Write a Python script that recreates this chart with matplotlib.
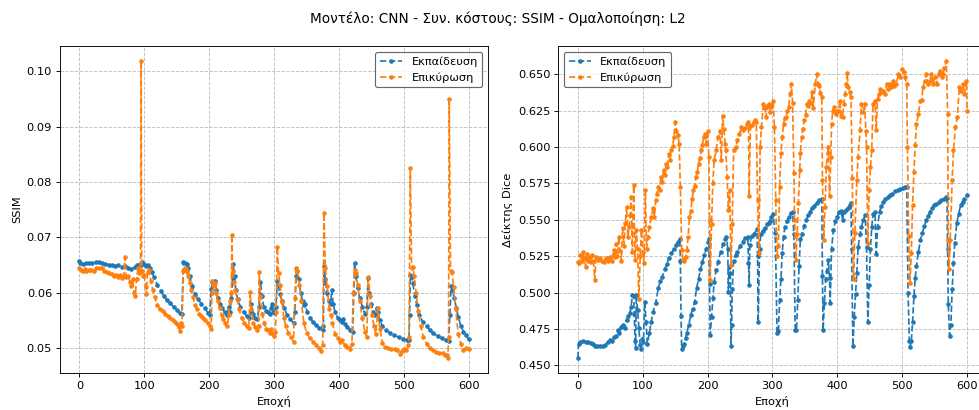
import matplotlib
matplotlib.use("Agg")
import matplotlib.pyplot as plt

# SSIM per epoch (train / validation)
ssim_train_ep = [0, 1, 5, 10, 15, 20, 25, 30, 35, 40, 45, 50, 55, 60, 65, 70, 75, 80, 85, 88,
                 90, 93, 95, 97, 100, 103, 106, 109, 112, 115, 120, 125, 130, 135, 140, 145, 150, 155, 158, 160,
                 162, 165, 167, 170, 174, 178, 183, 188, 193, 198, 201, 203, 205, 207, 209, 211, 213, 216, 220, 224,
                 228, 230, 232, 234, 236, 237, 239, 241, 244, 248, 253, 258, 262, 264, 265, 267, 270, 274, 277, 279,
                 281, 284, 287, 290, 293, 295, 297, 299, 301, 303, 305, 307, 309, 312, 316, 320, 325, 330, 332, 334,
                 336, 338, 341, 344, 346, 348, 351, 355, 360, 365, 370, 375, 376, 377, 379, 381, 384, 387, 389, 391,
                 394, 398, 402, 405, 407, 409, 413, 417, 421, 423, 424, 426, 429, 432, 436, 440, 443, 445, 447, 450,
                 453, 456, 458, 460, 463, 467, 472, 478, 485, 492, 499, 505, 508, 509, 510, 512, 514, 517, 520, 524,
                 529, 535, 540, 545, 552, 559, 565, 569, 571, 573, 575, 578, 581, 584, 588, 592, 596, 600]
ssim_train = [0.0658, 0.0653, 0.0652, 0.0654, 0.0653, 0.0654, 0.0655, 0.0655, 0.0654, 0.0652,
              0.0651, 0.0650, 0.0649, 0.0650, 0.0647, 0.0648, 0.0645, 0.0643, 0.0646, 0.0651,
              0.0648, 0.0652, 0.0650, 0.0655, 0.0652, 0.0648, 0.0650, 0.0645, 0.0637, 0.0628,
              0.0614, 0.0603, 0.0594, 0.0587, 0.0581, 0.0575, 0.0569, 0.0563, 0.0562, 0.0655,
              0.0654, 0.0652, 0.0645, 0.0630, 0.0612, 0.0598, 0.0588, 0.0580, 0.0572, 0.0564,
              0.0560, 0.0606, 0.0620, 0.0615, 0.0622, 0.0605, 0.0590, 0.0580, 0.0572, 0.0565,
              0.0560, 0.0575, 0.0565, 0.0590, 0.0625, 0.0652, 0.0630, 0.0605, 0.0588, 0.0575,
              0.0565, 0.0558, 0.0555, 0.0568, 0.0580, 0.0562, 0.0555, 0.0552, 0.0575, 0.0620,
              0.0595, 0.0575, 0.0568, 0.0565, 0.0562, 0.0572, 0.0580, 0.0565, 0.0563, 0.0575,
              0.0622, 0.0612, 0.0598, 0.0585, 0.0572, 0.0560, 0.0552, 0.0546, 0.0565, 0.0630,
              0.0640, 0.0625, 0.0600, 0.0585, 0.0578, 0.0580, 0.0565, 0.0555, 0.0547, 0.0541,
              0.0537, 0.0533, 0.0540, 0.0649, 0.0625, 0.0600, 0.0585, 0.0580, 0.0605, 0.0580,
              0.0565, 0.0555, 0.0550, 0.0547, 0.0552, 0.0543, 0.0538, 0.0533, 0.0530, 0.0600,
              0.0653, 0.0630, 0.0608, 0.0590, 0.0575, 0.0562, 0.0575, 0.0626, 0.0600, 0.0580,
              0.0566, 0.0560, 0.0572, 0.0565, 0.0550, 0.0540, 0.0533, 0.0528, 0.0524, 0.0520,
              0.0517, 0.0515, 0.0514, 0.0560, 0.0632, 0.0628, 0.0618, 0.0595, 0.0578, 0.0560,
              0.0548, 0.0540, 0.0533, 0.0527, 0.0522, 0.0518, 0.0515, 0.0513, 0.0560, 0.0612,
              0.0605, 0.0590, 0.0572, 0.0556, 0.0540, 0.0530, 0.0523, 0.0516]

ssim_val_ep = [0, 2, 5, 8, 10, 14, 18, 22, 26, 30, 34, 38, 42, 46, 50, 53, 56, 59, 62, 65,
               68, 70, 72, 75, 78, 80, 82, 84, 86, 88, 90, 92, 94, 95, 96, 98, 100, 102, 103, 105,
               107, 110, 113, 116, 120, 124, 128, 132, 136, 140, 144, 148, 151, 153, 155, 157, 158, 160, 162, 164,
               166, 168, 170, 172, 175, 178, 181, 184, 187, 190, 194, 198, 201, 203, 204, 205, 207, 209, 211, 213,
               216, 219, 222, 225, 228, 230, 232, 234, 235, 236, 238, 240, 243, 246, 250, 254, 258, 261, 263, 265,
               268, 271, 274, 276, 277, 279, 282, 285, 288, 291, 294, 296, 298, 300, 302, 303, 305, 307, 309, 312,
               315, 318, 322, 326, 330, 332, 334, 336, 339, 342, 346, 350, 355, 360, 365, 369, 372, 375, 377, 379,
               382, 385, 388, 390, 394, 398, 402, 405, 409, 413, 417, 420, 422, 424, 426, 429, 432, 436, 440, 443,
               445, 448, 451, 454, 457, 460, 463, 467, 471, 476, 481, 486, 490, 494, 497, 500, 504, 507, 508, 510,
               512, 514, 516, 519, 522, 526, 530, 535, 540, 545, 550, 555, 560, 563, 566, 568, 569, 570, 572, 574,
               577, 580, 584, 588, 592, 596, 600]
ssim_val = [0.0645, 0.0642, 0.0640, 0.0643, 0.0639, 0.0641, 0.0642, 0.0640, 0.0644, 0.0645,
            0.0644, 0.0640, 0.0638, 0.0636, 0.0634, 0.0630, 0.0633, 0.0629, 0.0632, 0.0626,
            0.0631, 0.0664, 0.0628, 0.0630, 0.0620, 0.0612, 0.0625, 0.0600, 0.0595, 0.0625,
            0.0645, 0.0635, 0.0640, 0.1019, 0.0640, 0.0630, 0.0632, 0.0610, 0.0597, 0.0638,
            0.0642, 0.0622, 0.0605, 0.0592, 0.0578, 0.0570, 0.0567, 0.0562, 0.0558, 0.0555,
            0.0550, 0.0547, 0.0543, 0.0538, 0.0531, 0.0545, 0.0540, 0.0640, 0.0645, 0.0643,
            0.0638, 0.0630, 0.0618, 0.0605, 0.0592, 0.0578, 0.0570, 0.0562, 0.0558, 0.0555,
            0.0550, 0.0545, 0.0540, 0.0535, 0.0600, 0.0622, 0.0612, 0.0618, 0.0600, 0.0585,
            0.0572, 0.0560, 0.0552, 0.0545, 0.0540, 0.0560, 0.0585, 0.0600, 0.0705, 0.0640,
            0.0620, 0.0605, 0.0588, 0.0570, 0.0555, 0.0545, 0.0540, 0.0536, 0.0601, 0.0570,
            0.0545, 0.0538, 0.0532, 0.0540, 0.0638, 0.0595, 0.0562, 0.0545, 0.0535, 0.0532,
            0.0528, 0.0535, 0.0525, 0.0522, 0.0530, 0.0565, 0.0683, 0.0635, 0.0614, 0.0584,
            0.0555, 0.0540, 0.0528, 0.0520, 0.0512, 0.0590, 0.0644, 0.0640, 0.0615, 0.0585,
            0.0545, 0.0528, 0.0518, 0.0512, 0.0506, 0.0500, 0.0495, 0.0505, 0.0744, 0.0645,
            0.0612, 0.0570, 0.0560, 0.0545, 0.0525, 0.0518, 0.0512, 0.0515, 0.0505, 0.0502,
            0.0498, 0.0508, 0.0600, 0.0641, 0.0635, 0.0614, 0.0585, 0.0555, 0.0530, 0.0520,
            0.0629, 0.0595, 0.0560, 0.0540, 0.0525, 0.0572, 0.0535, 0.0510, 0.0503, 0.0500,
            0.0498, 0.0499, 0.0497, 0.0490, 0.0495, 0.0499, 0.0496, 0.0505, 0.0520, 0.0825,
            0.0644, 0.0647, 0.0630, 0.0600, 0.0568, 0.0540, 0.0520, 0.0508, 0.0500, 0.0497,
            0.0493, 0.0492, 0.0491, 0.0488, 0.0487, 0.0482, 0.0520, 0.0950, 0.0640, 0.0637,
            0.0610, 0.0570, 0.0525, 0.0508, 0.0497, 0.0500, 0.0499]

# Dice coefficient per epoch (train / validation)
dice_train_ep = [0, 1, 4, 8, 12, 16, 20, 24, 27, 30, 34, 38, 42, 46, 50, 53, 56, 59, 62, 64,
                 67, 70, 72, 75, 78, 80, 82, 84, 86, 87, 88, 89, 90, 92, 94, 96, 97, 99, 101, 103,
                 105, 107, 110, 113, 116, 120, 124, 127, 130, 134, 137, 140, 144, 148, 152, 155, 157, 158, 159, 160,
                 162, 164, 166, 168, 171, 174, 177, 180, 183, 186, 189, 192, 195, 198, 201, 202, 203, 204, 206, 208,
                 210, 213, 216, 220, 224, 227, 229, 231, 232, 233, 235, 236, 237, 238, 240, 243, 246, 250, 254, 258,
                 262, 263, 264, 265, 268, 272, 276, 277, 278, 280, 282, 285, 288, 291, 294, 296, 298, 301, 304, 305,
                 307, 309, 311, 313, 315, 317, 319, 322, 325, 328, 331, 333, 335, 337, 339, 341, 343, 346, 349, 352,
                 355, 358, 361, 364, 368, 372, 376, 377, 378, 380, 382, 384, 386, 388, 389, 391, 394, 397, 400, 403,
                 406, 408, 410, 413, 416, 419, 421, 422, 424, 426, 428, 430, 432, 435, 437, 440, 443, 445, 447, 449,
                 451, 453, 455, 458, 460, 462, 465, 468, 471, 474, 478, 481, 485, 489, 493, 497, 501, 505, 507, 509,
                 511, 512, 514, 516, 518, 520, 522, 525, 528, 531, 534, 537, 540, 543, 546, 549, 552, 556, 560, 564,
                 567, 569, 570, 571, 573, 575, 577, 579, 581, 584, 587, 590, 593, 596, 600]
dice_train = [0.455, 0.465, 0.466, 0.4665, 0.466, 0.4658, 0.4655, 0.465, 0.4632, 0.463,
              0.4635, 0.4633, 0.464, 0.466, 0.4676, 0.467, 0.4695, 0.470, 0.4745, 0.472,
              0.4767, 0.478, 0.4755, 0.4813, 0.484, 0.4858, 0.490, 0.4985, 0.4975, 0.485,
              0.4665, 0.462, 0.4985, 0.488, 0.4755, 0.464, 0.461, 0.468, 0.466, 0.4935,
              0.480, 0.465, 0.472, 0.480, 0.4868, 0.493, 0.503, 0.508, 0.511, 0.516,
              0.5195, 0.5235, 0.527, 0.530, 0.533, 0.535, 0.5365, 0.522, 0.484, 0.4615,
              0.463, 0.465, 0.4685, 0.4725, 0.478, 0.4845, 0.489, 0.4935, 0.503, 0.5095,
              0.516, 0.521, 0.526, 0.530, 0.5345, 0.537, 0.506, 0.471, 0.483, 0.496,
              0.507, 0.5155, 0.521, 0.528, 0.5335, 0.537, 0.5385, 0.530, 0.5005, 0.5175,
              0.5135, 0.463, 0.4775, 0.5025, 0.5215, 0.5255, 0.528, 0.532, 0.535, 0.5375,
              0.538, 0.520, 0.505, 0.533, 0.539, 0.5405, 0.5435, 0.525, 0.4795, 0.530,
              0.5405, 0.5425, 0.5445, 0.547, 0.548, 0.549, 0.552, 0.554, 0.541, 0.525,
              0.472, 0.4735, 0.495, 0.509, 0.5275, 0.538, 0.545, 0.549, 0.552, 0.5545,
              0.5555, 0.540, 0.4741, 0.4745, 0.495, 0.5185, 0.5365, 0.540, 0.546, 0.550,
              0.553, 0.5555, 0.558, 0.5595, 0.5615, 0.5635, 0.5645, 0.5115, 0.4741, 0.493,
              0.509, 0.515, 0.5225, 0.510, 0.4929, 0.530, 0.5432, 0.549, 0.552, 0.5555,
              0.556, 0.550, 0.5555, 0.5565, 0.558, 0.560, 0.5614, 0.530, 0.4632, 0.4832,
              0.499, 0.5133, 0.5315, 0.540, 0.545, 0.550, 0.553, 0.531, 0.4795, 0.505,
              0.530, 0.545, 0.554, 0.555, 0.5265, 0.545, 0.5555, 0.5595, 0.562, 0.564,
              0.5655, 0.567, 0.568, 0.5694, 0.5703, 0.5712, 0.572, 0.5728, 0.5725, 0.500,
              0.467, 0.4624, 0.4665, 0.480, 0.4975, 0.510, 0.5183, 0.528, 0.536, 0.541,
              0.5455, 0.5498, 0.5525, 0.5555, 0.558, 0.560, 0.561, 0.562, 0.5633, 0.5645,
              0.5653, 0.565, 0.530, 0.4922, 0.4705, 0.478, 0.5025, 0.520, 0.534, 0.5476,
              0.554, 0.560, 0.5625, 0.5645, 0.567]

dice_val_ep = [0, 2, 4, 6, 8, 10, 12, 14, 16, 18, 20, 22, 24, 26, 28, 31, 34, 37, 40, 43,
               46, 49, 52, 55, 57, 59, 61, 63, 65, 67, 69, 71, 73, 75, 77, 79, 81, 82, 84, 86,
               88, 90, 92, 94, 96, 98, 100, 102, 104, 106, 108, 110, 113, 116, 118, 120, 122, 124, 126, 128,
               130, 132, 134, 136, 138, 140, 142, 144, 146, 148, 150, 152, 154, 156, 158, 160, 162, 164, 166, 168,
               170, 172, 174, 176, 178, 180, 182, 184, 186, 188, 190, 192, 194, 196, 198, 200, 202, 203, 204, 206,
               208, 210, 213, 216, 219, 221, 223, 225, 227, 228, 230, 232, 234, 236, 238, 240, 243, 246, 249, 252,
               255, 258, 260, 263, 264, 266, 268, 271, 273, 275, 277, 279, 281, 283, 286, 288, 290, 292, 294, 296,
               298, 301, 303, 305, 307, 309, 311, 313, 315, 317, 319, 321, 323, 325, 327, 329, 331, 333, 334, 336,
               338, 340, 342, 343, 345, 347, 349, 351, 353, 355, 357, 359, 361, 363, 366, 368, 370, 372, 374, 376,
               377, 379, 381, 383, 385, 386, 388, 390, 391, 393, 395, 398, 400, 402, 404, 406, 408, 410, 412, 414,
               415, 417, 419, 421, 423, 425, 427, 430, 432, 435, 437, 440, 442, 444, 445, 447, 449, 451, 453, 455,
               458, 460, 462, 464, 466, 468, 471, 473, 476, 478, 481, 483, 486, 488, 491, 494, 496, 499, 502, 504,
               507, 508, 510, 512, 514, 516, 518, 520, 522, 525, 528, 530, 532, 535, 537, 540, 543, 545, 548, 550,
               553, 556, 558, 561, 563, 565, 568, 570, 571, 572, 574, 577, 579, 582, 585, 588, 591, 594, 596, 599,
               600]
dice_val = [0.5212, 0.520, 0.5258, 0.522, 0.528, 0.5235, 0.5178, 0.5265, 0.522, 0.5246,
            0.521, 0.5255, 0.522, 0.5086, 0.5245, 0.5225, 0.5235, 0.522, 0.521, 0.5235,
            0.522, 0.5245, 0.5215, 0.5292, 0.5245, 0.5337, 0.525, 0.5383, 0.5285, 0.522,
            0.5445, 0.532, 0.548, 0.5588, 0.538, 0.545, 0.5535, 0.5656, 0.528, 0.5736,
            0.5223, 0.5428, 0.530, 0.4955, 0.525, 0.543, 0.528, 0.520, 0.5702, 0.530,
            0.538, 0.5451, 0.552, 0.558, 0.552, 0.5634, 0.568, 0.5725, 0.5705, 0.5793,
            0.576, 0.5839, 0.5805, 0.5884, 0.586, 0.5953, 0.591, 0.5976, 0.6005, 0.6067,
            0.6169, 0.611, 0.6085, 0.6021, 0.5725, 0.5292, 0.5223, 0.5215, 0.5245, 0.5292,
            0.5383, 0.552, 0.556, 0.564, 0.5702, 0.5735, 0.5793, 0.583, 0.5884, 0.5925,
            0.5976, 0.6015, 0.6067, 0.609, 0.602, 0.6112, 0.593, 0.550, 0.5086, 0.5474,
            0.575, 0.5907, 0.5976, 0.6067, 0.6112, 0.5907, 0.6215, 0.612, 0.602, 0.5976,
            0.5793, 0.5565, 0.5702, 0.519, 0.5474, 0.5976, 0.5998, 0.6045, 0.609, 0.6135,
            0.6114, 0.613, 0.6155, 0.617, 0.566, 0.6145, 0.615, 0.617, 0.6185, 0.617,
            0.5636, 0.5273, 0.600, 0.6136, 0.6295, 0.627, 0.6205, 0.628, 0.6295, 0.624,
            0.6275, 0.6318, 0.6135, 0.5636, 0.525, 0.5318, 0.5727, 0.5955, 0.607, 0.6159,
            0.620, 0.6205, 0.6245, 0.6273, 0.6364, 0.6432, 0.630, 0.582, 0.550, 0.5227,
            0.540, 0.5614, 0.584, 0.5955, 0.607, 0.6125, 0.6182, 0.622, 0.6295, 0.628,
            0.6318, 0.630, 0.6375, 0.627, 0.6432, 0.650, 0.6432, 0.642, 0.637, 0.634,
            0.5773, 0.5364, 0.559, 0.586, 0.5955, 0.600, 0.566, 0.593, 0.6159, 0.625,
            0.6273, 0.6227, 0.625, 0.625, 0.6318, 0.621, 0.6205, 0.6295, 0.6364, 0.6432,
            0.651, 0.6409, 0.638, 0.634, 0.579, 0.509, 0.541, 0.5773, 0.5932, 0.6114,
            0.6295, 0.624, 0.6295, 0.611, 0.600, 0.534, 0.5705, 0.586, 0.5977, 0.6295,
            0.6318, 0.6114, 0.633, 0.6364, 0.6398, 0.638, 0.6386, 0.636, 0.6432, 0.6395,
            0.6432, 0.641, 0.6455, 0.642, 0.6432, 0.650, 0.6477, 0.6534, 0.6511, 0.6477,
            0.6432, 0.600, 0.5386, 0.5068, 0.5273, 0.560, 0.583, 0.601, 0.6159, 0.6227,
            0.6318, 0.632, 0.6409, 0.6455, 0.650, 0.6432, 0.6455, 0.650, 0.6432, 0.6477,
            0.6432, 0.650, 0.6523, 0.648, 0.650, 0.6545, 0.6591, 0.6227, 0.5364, 0.5159,
            0.5364, 0.5773, 0.5977, 0.6136, 0.6205, 0.6409, 0.6386, 0.6432, 0.6364, 0.6455,
            0.625]

title = "Μοντέλο: CNN - Συν. κόστους: SSIM - Ομαλοποίηση: L2"
xlabel = "Εποχή"
legend_labels = ["Εκπαίδευση", "Επικύρωση"]

fig = plt.figure(figsize=(12, 5.025), dpi=81.6)
ax1 = fig.add_axes([0.0613, 0.0902, 0.4372, 0.7976])
ax2 = fig.add_axes([0.5703, 0.0902, 0.4372, 0.7976])

style = dict(linestyle="--", marker=".", markersize=6)

ax1.plot(ssim_train_ep, ssim_train, color="tab:blue", label=legend_labels[0], **style)
ax1.plot(ssim_val_ep, ssim_val, color="tab:orange", label=legend_labels[1], **style)
ax1.set_ylabel("SSIM")
ax1.legend(loc="upper right", edgecolor="0.25")

ax2.plot(dice_train_ep, dice_train, color="tab:blue", label=legend_labels[0], **style)
ax2.plot(dice_val_ep, dice_val, color="tab:orange", label=legend_labels[1], **style)
ax2.set_ylabel("Δείκτης Dice")
ax2.legend(loc="upper left", edgecolor="0.25")

for ax in (ax1, ax2):
    ax.set_xlabel(xlabel)
    ax.grid(True, linestyle="--", alpha=0.8)

fig.suptitle(title, x=0.508, y=0.954, va="center")
fig.savefig("out.png", dpi=81.6)
